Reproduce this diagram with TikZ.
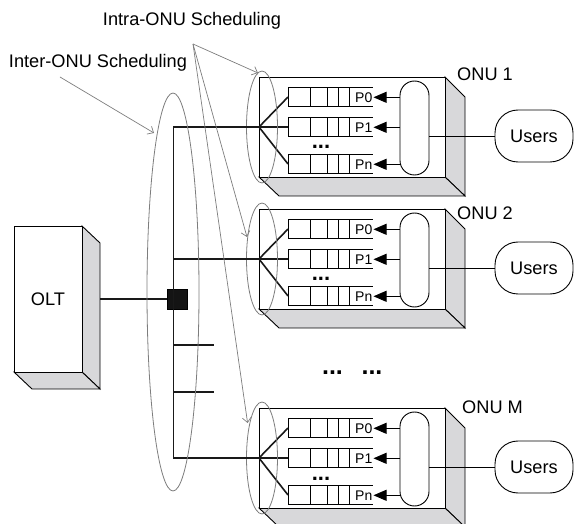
\documentclass[tikz,border=0pt]{standalone}
\usepackage{fontspec}
\setmainfont{Liberation Sans}
\usetikzlibrary{arrows.meta,calc}
\definecolor{facegrey}{RGB}{216,216,218}
\definecolor{ringgrey}{RGB}{125,125,125}

\begin{document}
\begin{tikzpicture}[x=1pt,y=-1pt,
  boxline/.style={draw=black,line width=0.9pt,line join=miter},
  boxface/.style={boxline,fill=facegrey},
  feed/.style={draw=black!90,line width=1.6pt},
  thinline/.style={draw=black,line width=0.9pt},
  qline/.style={draw=black,line width=0.8pt},
  ring/.style={draw=ringgrey,line width=0.8pt},
  callout/.style={draw=ringgrey,line width=0.7pt,-{Straight Barb[length=5pt,width=9pt]}},
  qarrow/.style={thinline,-{Triangle[length=13pt,width=11pt]}},
  bigtext/.style={font=\fontsize{18.2}{20}\selectfont,inner sep=0pt},
  tagtext/.style={font=\fontsize{14}{15}\selectfont,inner sep=0pt},
  dots/.style={font=\fontsize{22}{22}\selectfont\bfseries,inner sep=0pt,anchor=base},
  queuebox/.style={qline,fill=white,minimum width=61pt,minimum height=19.4pt,inner sep=0pt,outer sep=0pt},
  pill/.style={thinline,fill=white,rounded corners=14.5pt,minimum width=29pt,minimum height=94pt,inner sep=0pt},
  users/.style={thinline,fill=white,rounded corners=23pt,minimum width=78pt,minimum height=52pt,inner sep=0pt,font=\fontsize{18.2}{20}\selectfont},
  splitter/.style={fill=black!92,draw=black,minimum size=20pt,inner sep=0pt}
]
\useasboundingbox (0,0) rectangle (574,524);
\clip (0,0) rectangle (574,524);

% ---------- OLT cabinet ----------
\filldraw[boxface] (82,226) -- (100,243) -- (100,389) -- (82,372) -- cycle;
\filldraw[boxface] (14,372) -- (32,389) -- (100,389) -- (82,372) -- cycle;
\node[boxline,fill=white,minimum width=68pt,minimum height=146pt,inner sep=0pt,
      font=\fontsize{18.2}{20}\selectfont] (olt) at (48,299) {OLT};
\coordinate (oltport) at (100,299);

% ---------- ONUs ----------
\foreach \k/\dy in {1/0,2/132,M/331} {
  \begin{scope}[yshift=-\dy pt]
    % cabinet faces
    \filldraw[boxface] (445,77) -- (465,97) -- (465,196) -- (445,177) -- cycle;
    \filldraw[boxface] (259,177) -- (279,196) -- (465,196) -- (445,177) -- cycle;
    \draw[boxline,fill=white] (259,77) rectangle (445,177);
    \coordinate (fan\k) at (259,127);
    % priority queues
    \foreach \r/\y/\t in {0/87.3/P0,1/117.3/P1,n/154.3/Pn} {
      \node[queuebox] (q\k\r) at (318.5,\y+9.7) {};
      \foreach \dx in {310,327,338} \draw[qline] (\dx,\y) -- (\dx,\y+19.4);
      \draw[qline] (q\k\r.north east) -- (373,\y);
      \draw[qline] (q\k\r.south east) -- (373,\y+19.4);
      \node[tagtext,anchor=east] (p\k\r) at (372.5,\y+10) {\t};
      \draw[feed] (fan\k) -- (q\k\r.west);
    }
    \node[dots] (qd\k) at (321,149) {...};
    % classifier and its inputs
    \node[pill] (pill\k) at (414.5,128) {};
    \foreach \r in {0,1,n}
      \draw[qarrow] (pill\k.west |- p\k\r.east) -- ([xshift=1pt]p\k\r.east);
    % users
    \node[users] (users\k) at (534,136) {Users};
    \draw[thinline] (pill\k.east |- users\k.west) -- (users\k.west);
    % intra-ONU scope ring
    \draw[ring] (262,127) ellipse [x radius=15.5, y radius=56];
  \end{scope}
}
\node[bigtext,anchor=west] (onu1) at (457,74) {ONU 1};
\node[bigtext,anchor=west] (onu2) at (457,213) {ONU 2};
\node[bigtext,anchor=west] (onuM) at (462,407) {ONU M};

% ---------- distribution bus ----------
\node[splitter] (split) at (177,299) {};
\coordinate (bustop) at (173.5,127);
\coordinate (busbot) at (173.5,458);
\draw[feed] (fan1) -- (bustop) -- (busbot) -- (fanM);
\draw[feed] (fan2) -- (fan2 -| bustop);
\coordinate (stubA) at (214,345);
\coordinate (stubB) at (214,392);
\draw[feed] (stubA -| bustop) -- (stubA);
\draw[feed] (stubB -| bustop) -- (stubB);
\draw[feed] (oltport) -- (split.west);

\node[dots,font=\fontsize{25}{25}\selectfont\bfseries] (gap1) at (332.5,374) {...};
\node[dots,font=\fontsize{25}{25}\selectfont\bfseries] (gap2) at (372,374) {...};

% ---------- scheduling annotations ----------
\draw[ring] (173,292) ellipse [x radius=26, y radius=199];
\node[bigtext] (intra) at (192,21) {Intra-ONU Scheduling};
\node[bigtext] (inter) at (98,63) {Inter-ONU Scheduling};
\coordinate (apex) at (193,44);
\coordinate (interfrom) at (60,77);
\coordinate (ringinter) at (154,133);
\coordinate (ring1) at (258,73);
\coordinate (ring2) at (247,237);
\coordinate (ringM) at (247.6,423);
\draw[callout] (interfrom) -- (ringinter);
\draw[callout] (apex) -- (ring1);
\draw[callout] (apex) -- (ring2);
\draw[callout] (apex) -- (ringM);
\end{tikzpicture}
\end{document}
